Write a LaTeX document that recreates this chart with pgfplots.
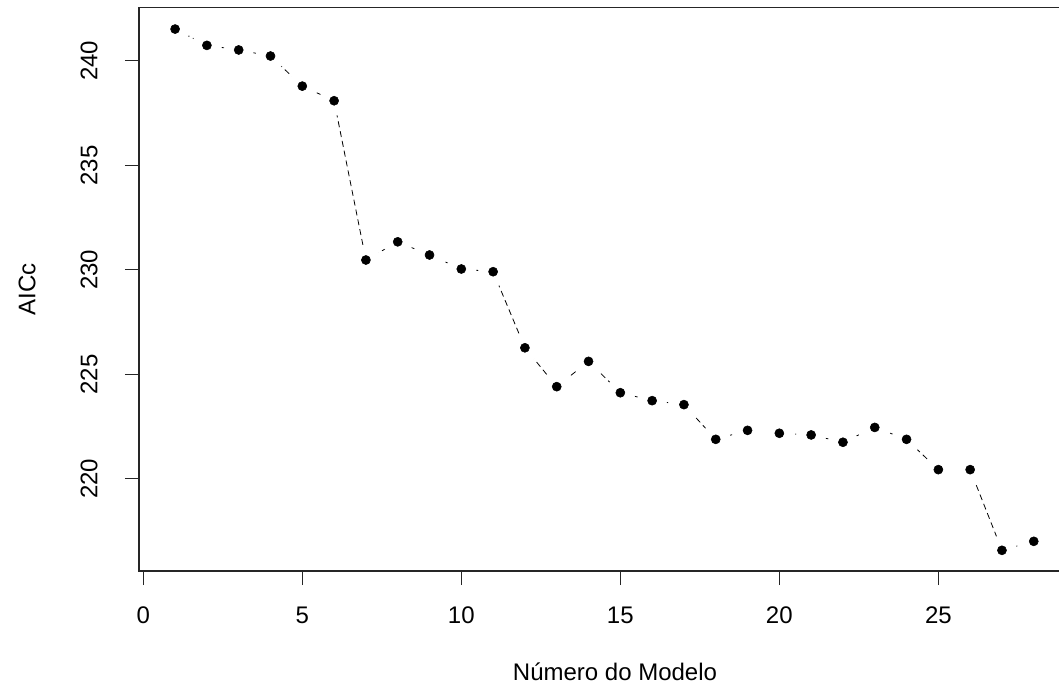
\documentclass[border=0pt]{standalone}
\usepackage{fontspec}
\setmainfont{Liberation Sans}
\usepackage{pgfplots}
\usepackage{pgfplotstable}
\pgfplotsset{compat=1.18}

% AICc por modelo
\pgfplotstableread{
modelo aicc
1  241.52
2  240.74
3  240.52
4  240.23
5  238.79
6  238.09
7  230.47
8  231.34
9  230.71
10 230.04
11 229.91
12 226.27
13 224.41
14 225.62
15 224.12
16 223.74
17 223.55
18 221.89
19 222.32
20 222.18
21 222.10
22 221.75
23 222.46
24 221.89
25 220.44
26 220.44
27 216.58
28 217.01
}\aicctab

\begin{document}
\begin{tikzpicture}
\begin{axis}[
  at={(0pt,0pt)}, anchor=south west,
  scale only axis, width=714pt, height=422.6pt,
  xmin=-0.135, xmax=29.8, ymin=215.59, ymax=242.55,
  xtick={0,5,...,25}, ytick={220,225,...,240},
  tick pos=left, tick align=outside, major tick length=10.5pt,
  axis line style={line width=0.9pt, black!85},
  tick style={line width=0.9pt, black!85},
  font=\fontsize{18}{20}\selectfont,
  /pgf/number format/assume math mode=true,
  xticklabel style={anchor=center, yshift=-22.5pt},
  yticklabel style={rotate=90, anchor=center, yshift=27pt},
  xlabel={Número do Modelo}, ylabel={AICc},
  xlabel style={at={(axis description cs:0.5,0)}, anchor=center, yshift=-75.75pt},
  ylabel style={at={(axis description cs:0,0.5)}, anchor=center, yshift=84pt},
]
  % linha tracejada
  \addplot[black, line width=0.6pt, dash pattern=on 4.5pt off 3pt, no markers]
    table[x=modelo, y=aicc] {\aicctab};
  % lacunas em volta dos pontos (type = "b")
  \addplot[white, only marks, mark=*, mark size=11pt, mark options={fill=white, draw=white}]
    table[x=modelo, y=aicc] {\aicctab};
  \addplot[black, only marks, mark=*, mark size=3.4pt, mark options={fill=black, draw=black}]
    table[x=modelo, y=aicc] {\aicctab};
\end{axis}
\pgfresetboundingbox
\useasboundingbox (-104.25pt,-86.25pt) rectangle (690pt,428.25pt);
\end{tikzpicture}
\end{document}
